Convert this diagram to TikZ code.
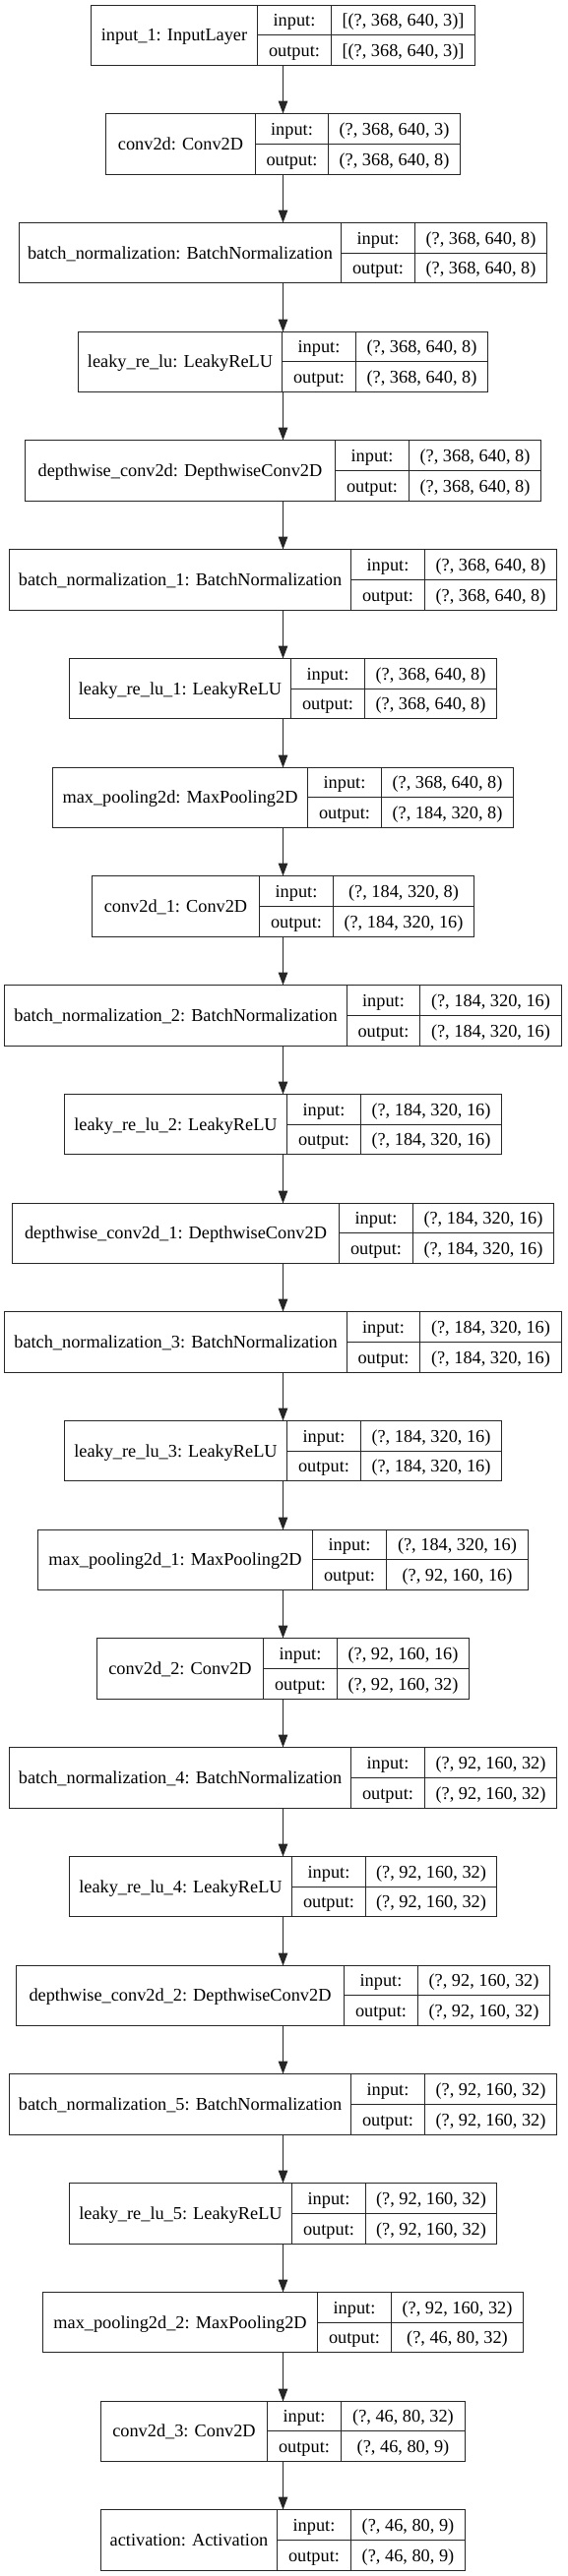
\documentclass[tikz,border=0pt]{standalone}
\usepackage{fontspec}
\setmainfont{Liberation Serif}
\usetikzlibrary{arrows.meta}
\tikzset{
  frame/.style={draw=black!85, line width=1.25pt, rectangle, inner sep=0pt, outer sep=0pt},
  rule/.style={draw=black!85, line width=1.25pt},
  txt/.style={inner sep=0pt, font=\fontsize{18.3}{22}\selectfont, text height=12.2pt, text depth=0pt, anchor=center},
  link/.style={draw=black!85, line width=1.25pt, -{Triangle[length=13pt,width=9.5pt]}}
}
% #1 name, #2 index, #3 half width, #4 divider 1, #5 divider 2, #6 label, #7 input shape, #8 output shape
\newcommand{\kerasbox}[8]{%
  \pgfmathsetmacro{\ltopraw}{5+(#2-1)*110.73}
  \pgfmathsetmacro{\ltop}{floor(\ltopraw)+0.5}
  \pgfmathsetmacro{\lbot}{floor(\ltopraw+61.5)+0.5}
  \pgfmathsetmacro{\lmid}{floor(\ltopraw+30.75)+0.5}
  \pgfmathsetmacro{\lrowa}{(\ltop+\lmid)/2}
  \pgfmathsetmacro{\lrowb}{(\lmid+\lbot)/2}
  \pgfmathsetmacro{\lleft}{floor(287.5-#3)+0.5}
  \pgfmathsetmacro{\lright}{575-\lleft}
  \pgfmathsetmacro{\lda}{floor(#4)+0.5}
  \pgfmathsetmacro{\ldb}{floor(#5)+0.5}
  \pgfmathsetmacro{\lw}{\lright-\lleft}
  \pgfmathsetmacro{\lh}{\lbot-\ltop}
  \node[frame, minimum width=\lw, minimum height=\lh, anchor=north west] (#1) at (\lleft,\ltop) {};
  \draw[rule] (\lda,\ltop) -- (\lda,\lbot);
  \draw[rule] (\ldb,\ltop) -- (\ldb,\lbot);
  \draw[rule] (\lda,\lmid) -- (\lright,\lmid);
  \node[txt] (#1-name) at ({(\lleft+\lda)/2},\lmid) {#6};
  \node[txt] (#1-inl) at ({(\lda+\ldb)/2},\lrowa) {input:};
  \node[txt] (#1-outl) at ({(\lda+\ldb)/2},\lrowb) {output:};
  \node[txt] (#1-inv) at ({(\ldb+\lright)/2},\lrowa) {#7};
  \node[txt] (#1-outv) at ({(\ldb+\lright)/2},\lrowb) {#8};
}
\begin{document}
\begin{tikzpicture}[x=1pt,y=-1pt]
\fill[white] (0,0) rectangle (576,2619);
\useasboundingbox (0,0) rectangle (576,2619);
\kerasbox{b1}{1}{195}{261.6}{336.5}{input\_1: InputLayer}{[(?, 368, 640, 3)]}{[(?, 368, 640, 3)]}
\kerasbox{b2}{2}{180.2}{259}{333.6}{conv2d: Conv2D}{(?, 368, 640, 3)}{(?, 368, 640, 8)}
\kerasbox{b3}{3}{268.2}{346.4}{421.4}{batch\_normalization: BatchNormalization}{(?, 368, 640, 8)}{(?, 368, 640, 8)}
\kerasbox{b4}{4}{208}{286.6}{361.9}{leaky\_re\_lu: LeakyReLU}{(?, 368, 640, 8)}{(?, 368, 640, 8)}
\kerasbox{b5}{5}{261.6}{340.2}{415.1}{depthwise\_conv2d: DepthwiseConv2D}{(?, 368, 640, 8)}{(?, 368, 640, 8)}
\kerasbox{b6}{6}{278.3}{356.4}{431.7}{batch\_normalization\_1: BatchNormalization}{(?, 368, 640, 8)}{(?, 368, 640, 8)}
\kerasbox{b7}{7}{217.1}{295.7}{370.3}{leaky\_re\_lu\_1: LeakyReLU}{(?, 368, 640, 8)}{(?, 368, 640, 8)}
\kerasbox{b8}{8}{233.9}{312.6}{387.2}{max\_pooling2d: MaxPooling2D}{(?, 368, 640, 8)}{(?, 184, 320, 8)}
\kerasbox{b9}{9}{193.8}{263.4}{338}{conv2d\_1: Conv2D}{(?, 184, 320, 8)}{(?, 184, 320, 16)}
\kerasbox{b10}{10}{282.9}{352}{426.9}{batch\_normalization\_2: BatchNormalization}{(?, 184, 320, 16)}{(?, 184, 320, 16)}
\kerasbox{b11}{11}{221.8}{291.3}{366.3}{leaky\_re\_lu\_2: LeakyReLU}{(?, 184, 320, 16)}{(?, 184, 320, 16)}
\kerasbox{b12}{12}{275.2}{344.6}{419.5}{depthwise\_conv2d\_1: DepthwiseConv2D}{(?, 184, 320, 16)}{(?, 184, 320, 16)}
\kerasbox{b13}{13}{282.9}{352}{426.9}{batch\_normalization\_3: BatchNormalization}{(?, 184, 320, 16)}{(?, 184, 320, 16)}
\kerasbox{b14}{14}{221.8}{291.3}{366.3}{leaky\_re\_lu\_3: LeakyReLU}{(?, 184, 320, 16)}{(?, 184, 320, 16)}
\kerasbox{b15}{15}{248.6}{317.8}{392.7}{max\_pooling2d\_1: MaxPooling2D}{(?, 184, 320, 16)}{(?, 92, 160, 16)}
\kerasbox{b16}{16}{189.4}{267.8}{342.4}{conv2d\_2: Conv2D}{(?, 92, 160, 16)}{(?, 92, 160, 32)}
\kerasbox{b17}{17}{278.3}{356.4}{431.3}{batch\_normalization\_4: BatchNormalization}{(?, 92, 160, 32)}{(?, 92, 160, 32)}
\kerasbox{b18}{18}{217.1}{296.1}{371}{leaky\_re\_lu\_4: LeakyReLU}{(?, 92, 160, 32)}{(?, 92, 160, 32)}
\kerasbox{b19}{19}{270.6}{349.4}{424.3}{depthwise\_conv2d\_2: DepthwiseConv2D}{(?, 92, 160, 32)}{(?, 92, 160, 32)}
\kerasbox{b20}{20}{278.3}{356.4}{431.3}{batch\_normalization\_5: BatchNormalization}{(?, 92, 160, 32)}{(?, 92, 160, 32)}
\kerasbox{b21}{21}{217.1}{296.1}{371}{leaky\_re\_lu\_5: LeakyReLU}{(?, 92, 160, 32)}{(?, 92, 160, 32)}
\kerasbox{b22}{22}{243.8}{322.6}{397.1}{max\_pooling2d\_2: MaxPooling2D}{(?, 92, 160, 32)}{(?, 46, 80, 32)}
\kerasbox{b23}{23}{185.2}{271.9}{346.4}{conv2d\_3: Conv2D}{(?, 46, 80, 32)}{(?, 46, 80, 9)}
\kerasbox{b24}{24}{185.2}{281.4}{356}{activation: Activation}{(?, 46, 80, 9)}{(?, 46, 80, 9)}
\foreach \i [evaluate=\i as \j using int(\i+1)] in {1,...,23} {
  \draw[link] (b\i.south) -- (b\j.north);
}
\end{tikzpicture}
\end{document}
